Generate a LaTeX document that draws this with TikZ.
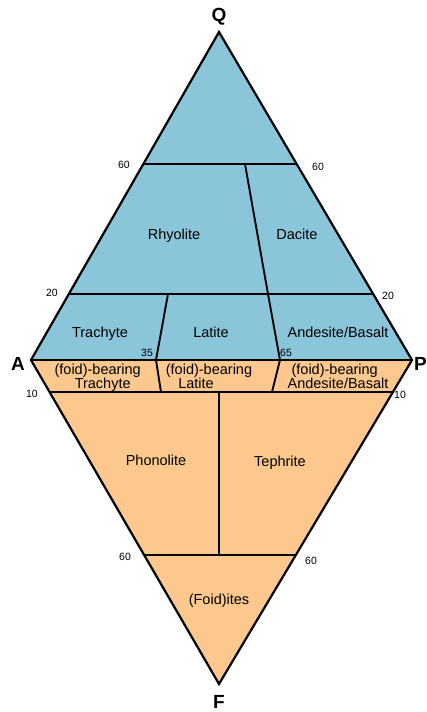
\documentclass[tikz,border=0pt]{standalone}
\usepackage{fontspec}
\setmainfont{Liberation Sans}
\begin{document}
\begin{tikzpicture}[x=1pt,y=-1pt,
  qapfill/.style={fill=qapblue},
  foidfill/.style={fill=foidorange},
  outline/.style={line width=2.2pt,line join=miter},
  divider/.style={line width=1.9pt,line cap=butt},
  field/.style={font=\fontsize{14.5}{15}\selectfont,anchor=base,inner sep=0pt},
  tick/.style={font=\fontsize{10.5}{11}\selectfont,anchor=base,inner sep=0pt},
  apex/.style={font=\fontsize{19}{20}\selectfont\bfseries,anchor=base,inner sep=0pt}]
\definecolor{qapblue}{RGB}{138,197,218}
\definecolor{foidorange}{RGB}{252,200,142}
\useasboundingbox (0,0) rectangle (427,712);

% corners of the double triangle
\coordinate (Q) at (219,32);
\coordinate (A) at (31,360);
\coordinate (P) at (412,360);
\coordinate (F) at (219,684);

% Q = 60 and Q = 20 lines
\coordinate (q60l) at (144,164);
\coordinate (q60r) at (297,164);
\coordinate (q20l) at (68,294);
\coordinate (q20r) at (373,294);
% F = 10 and F = 60 lines
\coordinate (f10l) at (50,392);
\coordinate (f10r) at (393,392);
\coordinate (f60l) at (144,555);
\coordinate (f60r) at (296,555);
% P/(A+P) dividers
\coordinate (d65a) at (245,164);
\coordinate (d65b) at (268,294);
\coordinate (d65c) at (280,360);
\coordinate (d35b) at (168,294);
\coordinate (d35c) at (156,360);
\coordinate (d35f) at (161,392);
\coordinate (d65f) at (272,392);
\coordinate (d50a) at (219,392);
\coordinate (d50b) at (219,555);

% fields
\fill[qapfill] (Q) -- (A) -- (P) -- cycle;
\fill[foidfill] (A) -- (F) -- (P) -- cycle;

% internal boundaries
\draw[divider] (q60l) -- (q60r);
\draw[divider] (q20l) -- (q20r);
\draw[divider] (A) -- (P);
\draw[divider] (f10l) -- (f10r);
\draw[divider] (f60l) -- (f60r);
\draw[divider] (d65a) -- (d65b) -- (d65c) -- (d65f);
\draw[divider] (d35b) -- (d35c) -- (d35f);
\draw[divider] (d50a) -- (d50b);

% outline
\draw[outline] (Q) -- (A) -- (F) -- (P) -- cycle;

% apex letters
\node[apex] (lQ) at (219,21) {Q};
\node[apex] (lA) at (18,370) {A};
\node[apex,anchor=base west] (lP) at (414,370) {P};
\node[apex] (lF) at (219,708) {F};

% scale values
\node[tick] (t60ul) at (124,168) {60};
\node[tick] (t60ur) at (318,170) {60};
\node[tick] (t20l) at (52,296.5) {20};
\node[tick] (t20r) at (388,299) {20};
\node[tick] (t35) at (147,356.5) {35};
\node[tick] (t65) at (286,356.5) {65};
\node[tick] (t10l) at (32,397) {10};
\node[tick] (t10r) at (400,398) {10};
\node[tick] (t60ll) at (125,560.5) {60};
\node[tick] (t60lr) at (311,564) {60};

% rock names
\node[field] (rhy) at (174,239) {Rhyolite};
\node[field] (dac) at (297,239) {Dacite};
\node[field] (tra) at (100,337.5) {Trachyte};
\node[field] (lat) at (211,337.5) {Latite};
\node[field] (and) at (338,337.5) {Andesite/Basalt};
\node[field] (ftra1) at (97.7,374.5) {(foid)-bearing};
\node[field] (ftra2) at (102.7,388) {Trachyte};
\node[field] (flat1) at (209,374.5) {(foid)-bearing};
\node[field] (flat2) at (196,388) {Latite};
\node[field] (fand1) at (334.7,374.5) {(foid)-bearing};
\node[field] (fand2) at (338,388) {Andesite/Basalt};
\node[field] (pho) at (156,465) {Phonolite};
\node[field] (tep) at (280,466) {Tephrite};
\node[field] (foi) at (219,604) {(Foid)ites};
\end{tikzpicture}
\end{document}
